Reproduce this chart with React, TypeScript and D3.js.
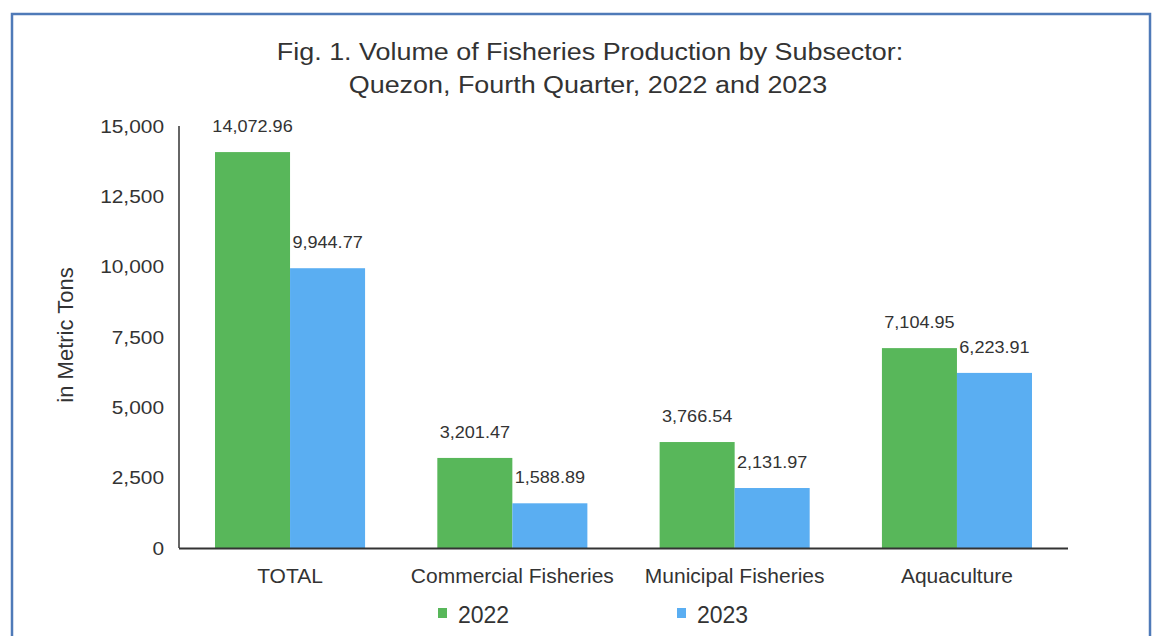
import React from "react";
import * as d3 from "d3";

const categories = ["TOTAL", "Commercial Fisheries", "Municipal Fisheries", "Aquaculture"];
const seriesNames = ["2022", "2023"];
const values2022 = [14072.96, 3201.47, 3766.54, 7104.95];
const values2023 = [9944.77, 1588.89, 2131.97, 6223.91];
const yTicks = [0, 2500, 5000, 7500, 10000, 12500, 15000];
const titleLines = ["Fig. 1. Volume of Fisheries Production by Subsector:", "Quezon, Fourth Quarter, 2022 and 2023"];
const colors = ["#58b75a", "#5aaef2"];

function T(props: { x: number; y: number; sx?: number; size: number; anchor?: string; children: any; rotate?: number }) {
  const { x, y, sx = 1, size, anchor = "middle", children, rotate = 0 } = props;
  return (
    <text
      transform={`translate(${x},${y}) rotate(${rotate}) scale(${sx},1)`}
      textAnchor={anchor}
      fontSize={size}
      fill="#333"
    >
      {children}
    </text>
  );
}

export default function App() {
  const W = 1155, H = 636;
  const left = 179, right = 1068, top = 126, bottom = 548;
  const x = d3.scaleBand<string>().domain(categories).range([left, right]).paddingInner(0.325).paddingOuter(0.162);
  const x1 = d3.scaleBand<string>().domain(seriesNames).range([0, x.bandwidth()]);
  const y = d3.scaleLinear().domain([0, 15000]).range([bottom, top]);
  const fmt = d3.format(",.2f");
  const tfmt = d3.format(",");
  const series = [values2022, values2023];
  const font = "'Liberation Sans', Arial, sans-serif";
  return (
    <svg width={W} height={H} style={{ position: "absolute", left: 0, top: 0, fontFamily: font }}>
      <rect x={0} y={0} width={W} height={H} fill="#fff" />
      <rect x={12} y={14} width={1138} height={700} fill="none" stroke="#4f7ab8" strokeWidth={2.5} />
      <T x={590} y={60} size={23} sx={1.17}>{titleLines[0]}</T>
      <T x={588} y={93} size={23} sx={1.17}>{titleLines[1]}</T>
      <T x={73} y={335} size={22} rotate={-90}>in Metric Tons</T>
      {yTicks.map((t) => (
        <T key={t} x={164} y={y(t) + 6.5} size={18} sx={1.16} anchor="end">{tfmt(t)}</T>
      ))}
      {categories.map((c, i) => (
        <g key={c}>
          {series.map((vals, s) => {
            const bx = (x(c) as number) + (x1(seriesNames[s]) as number);
            const bw = x1.bandwidth();
            return (
              <g key={s}>
                <rect x={bx} y={y(vals[i])} width={bw} height={bottom - y(vals[i])} fill={colors[s]} />
                <T x={bx + bw / 2} y={y(vals[i]) - 20} size={16} sx={1.13}>{fmt(vals[i])}</T>
              </g>
            );
          })}
          <T x={(x(c) as number) + x.bandwidth() / 2} y={583} size={20} sx={1.05}>{c}</T>
        </g>
      ))}
      <line x1={left} x2={left} y1={top} y2={bottom} stroke="#333" strokeWidth={1.5} />
      <line x1={left} x2={right} y1={bottom + 0.5} y2={bottom + 0.5} stroke="#333" strokeWidth={2} />
      {seriesNames.map((n, s) => {
        const lx = [438, 677][s];
        return (
          <g key={n}>
            <rect x={lx} y={608} width={9} height={10} fill={colors[s]} />
            <T x={lx + 20} y={623} size={23} anchor="start">{n}</T>
          </g>
        );
      })}
    </svg>
  );
}
